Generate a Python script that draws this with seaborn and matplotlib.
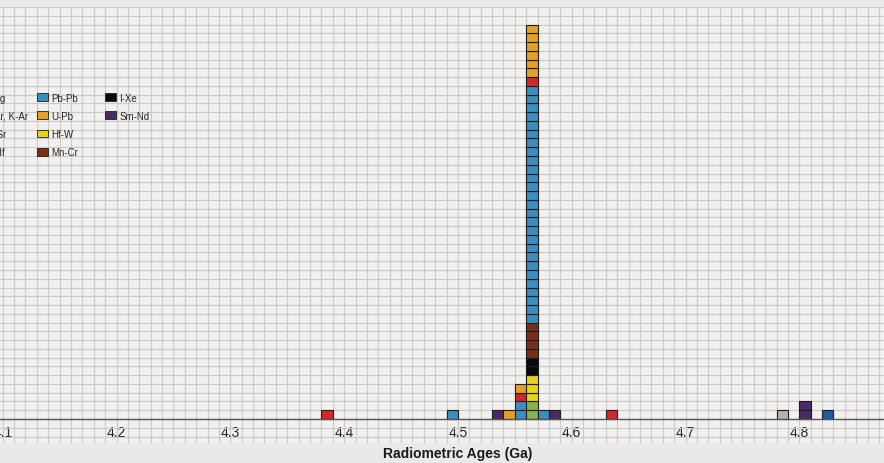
"""
Stacked cell histogram of radiometric ages (Ga), one square per measurement.
"""

import matplotlib
matplotlib.use("Agg")
import matplotlib.pyplot as plt
from matplotlib.patches import Patch
from matplotlib.ticker import MultipleLocator, NullFormatter
import pandas as pd
import seaborn as sns

# ----------------------------
# Data
# ----------------------------
methods = ["Al-Mg", "Ar-Ar, K-Ar", "Rb-Sr", "Lu-Hf",
           "Pb-Pb", "U-Pb", "Hf-W", "Mn-Cr",
           "I-Xe", "Sm-Nd"]
colors = ["#d7262b", "#b9b1a9", "#1f5ca6", "#86b34a",
          "#3a8ec0", "#e5a123", "#e8d21e", "#7a2e19",
          "#0a0a0a", "#4a2a66"]

# bin centres (Ga), bin width 0.01
bin_ages = [4.385, 4.495, 4.535, 4.545, 4.555, 4.565,
            4.575, 4.585, 4.635, 4.785, 4.805, 4.825]
# methods in each bin, bottom to top, with counts
bin_stacks = [
    [("Al-Mg", 1)],
    [("Pb-Pb", 1)],
    [("Sm-Nd", 1)],
    [("U-Pb", 1)],
    [("Pb-Pb", 2), ("Al-Mg", 1), ("U-Pb", 1)],
    [("Lu-Hf", 2), ("Hf-W", 3), ("I-Xe", 2), ("Mn-Cr", 4),
     ("Pb-Pb", 27), ("Al-Mg", 1), ("U-Pb", 6)],
    [("Pb-Pb", 1)],
    [("Sm-Nd", 1)],
    [("Al-Mg", 1)],
    [("Ar-Ar, K-Ar", 1)],
    [("Sm-Nd", 2)],
    [("Rb-Sr", 1)],
]

tick_values = [4.1, 4.2, 4.3, 4.4, 4.5, 4.6, 4.7, 4.8]
tick_labels = ["4.1", "4.2", "4.3", "4.4", "4.5", "4.6", "4.7", "4.8"]

# ----------------------------
# One row per measurement so every cell gets its own outline
# ----------------------------
color_of = dict(zip(methods, colors))
rows = []
for age, stack in zip(bin_ages, bin_stacks):
    for method, n in stack:
        for _ in range(n):
            rows.append({"age": age, "method": method, "cell": f"c{len(rows)}"})
df = pd.DataFrame(rows)
palette = {r["cell"]: color_of[r["method"]] for r in rows}
# seaborn stacks the first hue level on top
hue_order = list(df["cell"])[::-1]

sns.set_style("white")
plt.rcParams["font.family"] = ["Liberation Sans", "DejaVu Sans"]

W, H = 884, 464
fig = plt.figure(figsize=(W / 100, H / 100), dpi=100, facecolor="#e9e9e9")
ax = fig.add_axes([0, 1 - 444.3 / H, 1, (444.3 - 8) / H])
ax.set_facecolor("#f3f1ef")

sns.histplot(
    data=df, x="age", hue="cell", hue_order=hue_order, palette=palette,
    multiple="stack", binwidth=0.01, binrange=(4.38, 4.83), shrink=1,
    edgecolor="#1e1e1e", linewidth=0.8, alpha=1, legend=False, ax=ax,
)
# drop the empty segments seaborn leaves in every bin
for p in list(ax.patches):
    if p.get_height() == 0:
        p.remove()

ax.set_xlim(4.0976, 4.8744)
ax.set_ylim(-2.77, 47)

# graph-paper grid: one cell per 0.01 Ga and per count
ax.set_xticks(tick_values)
ax.set_xticklabels(tick_labels)
ax.xaxis.set_minor_locator(MultipleLocator(0.01))
ax.yaxis.set_major_locator(MultipleLocator(1))
ax.yaxis.set_major_formatter(NullFormatter())
ax.grid(True, which="both", axis="x", color="#cdcac7", linewidth=0.9)
ax.grid(True, which="major", axis="y", color="#cdcac7", linewidth=0.9)
ax.set_axisbelow(True)

for side in ["left", "right", "top"]:
    ax.spines[side].set_visible(False)
ax.spines["bottom"].set_position(("data", 0))
ax.spines["bottom"].set_color("#555555")
ax.spines["bottom"].set_linewidth(1)
ax.tick_params(axis="x", which="major", direction="out", length=5, width=0.8,
               color="#555555", pad=-1, labelsize=10, labelcolor="#222222")
ax.tick_params(axis="x", which="minor", length=0)
ax.tick_params(axis="y", which="both", length=0)
ax.set_ylabel("")

ax.set_xlabel("Radiometric Ages (Ga)", fontsize=10, fontweight="bold",
              color="#1a1a1a", va="center")
ax.xaxis.set_label_coords(457.5 / W, -0.022)

# ----------------------------
# Legend, three columns (the first one runs off the left edge)
# ----------------------------
handles = [Patch(facecolor=c, edgecolor="#1e1e1e", linewidth=0.6, label=m)
           for m, c in zip(methods, colors)]
legend_groups = [handles[0:4], handles[4:8], handles[8:10]]
legend_left = [-33, 36.7, 105]
for group, left in zip(legend_groups, legend_left):
    fig.legend(
        handles=group, loc="upper left",
        bbox_to_anchor=(left / W, 1 - 93.5 / H), bbox_transform=fig.transFigure,
        frameon=False, fontsize=7, handlelength=1.12, handleheight=0.85,
        handletextpad=0.33, labelspacing=0.84, borderpad=0, borderaxespad=0,
    )

fig.savefig("out.png", dpi=100, facecolor=fig.get_facecolor())
